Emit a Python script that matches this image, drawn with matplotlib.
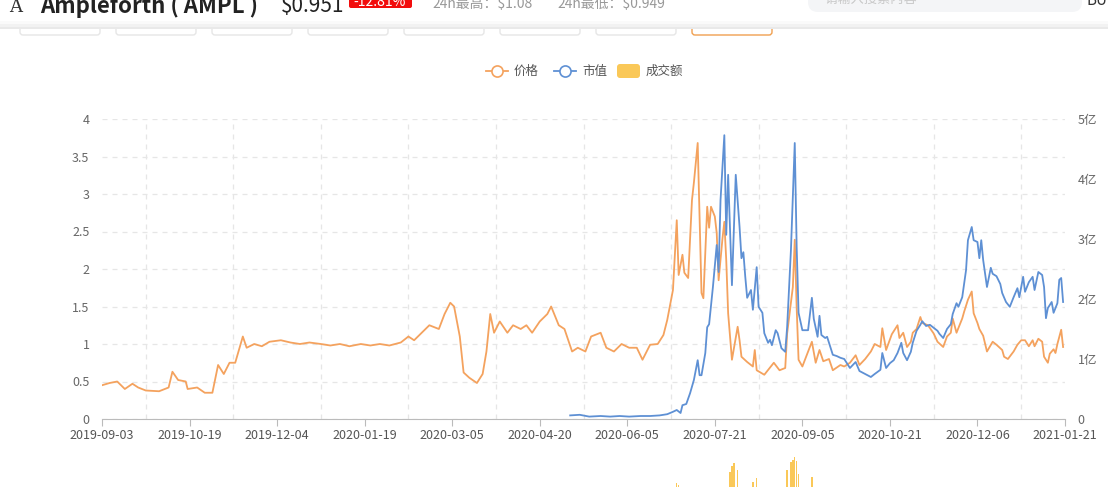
import datetime as dt
import matplotlib
matplotlib.use('Agg')
import matplotlib.pyplot as plt
from matplotlib.patches import FancyBboxPatch, Rectangle
from matplotlib.lines import Line2D

plt.rcParams['font.family'] = ['Noto Sans CJK SC', 'DejaVu Sans']

start = dt.date(2019, 9, 3)

# price (USD), day offsets from 2019-09-03
price_day = [0, 4, 8, 12, 16, 19, 23, 30, 35, 37, 40, 44, 45, 50, 54, 58, 61, 64, 67, 70,
             74, 76, 80, 84, 88, 94, 99, 104, 109, 115, 120, 125, 130, 136, 141, 146, 151, 157,
             161, 164, 168, 172, 177, 180, 183, 185, 188, 190, 193, 197, 200, 202, 204, 206,
             209, 213, 216, 220, 223, 226, 230, 234, 236, 240, 243, 247, 250, 254, 257, 262,
             265, 269, 273, 277, 281, 284, 288, 292, 295, 297, 300, 302, 303, 305, 306, 308,
             310, 311, 313, 314, 315, 316, 318, 319, 320, 322, 323, 324, 326, 327, 328, 329,
             331, 334, 335, 336, 339, 342, 343, 344, 348, 353, 356, 359, 360, 363, 364, 365,
             366, 368, 373, 375, 377, 379, 382, 384, 388, 390, 393, 396, 398, 401, 404, 406,
             409, 410, 412, 415, 418, 419, 421, 423, 425, 426, 428, 430, 431, 434, 437, 439,
             442, 444, 446, 447, 449, 452, 453, 455, 457, 458, 460, 461, 463, 465, 468, 470,
             473, 474, 476, 479, 481, 483, 485, 487, 489, 490, 492, 494, 495, 497, 498, 500,
             501, 502, 504, 505]
price_val = [0.45, 0.48, 0.50, 0.40, 0.47, 0.42, 0.38, 0.37, 0.42, 0.63, 0.52, 0.50, 0.40, 0.42,
             0.35, 0.35, 0.72, 0.60, 0.75, 0.75, 1.10, 0.95, 1.00, 0.97, 1.03, 1.05, 1.02, 1.00,
             1.02, 1.00, 0.98, 1.00, 0.97, 1.00, 0.98, 1.00, 0.98, 1.02, 1.10, 1.05, 1.15, 1.25,
             1.20, 1.40, 1.55, 1.50, 1.10, 0.62, 0.55, 0.48, 0.60, 0.90, 1.40, 1.15, 1.30, 1.15,
             1.25, 1.20, 1.25, 1.15, 1.30, 1.40, 1.50, 1.25, 1.20, 0.90, 0.95, 0.90, 1.10, 1.15,
             0.95, 0.90, 1.00, 0.95, 0.95, 0.79, 0.99, 1.00, 1.12, 1.32, 1.72, 2.65, 1.92, 2.19,
             1.95, 1.88, 2.92, 3.15, 3.68, 2.70, 1.68, 1.61, 2.83, 2.55, 2.83, 2.70, 2.48, 1.85,
             2.40, 2.63, 2.12, 1.41, 0.79, 1.23, 1.05, 0.83, 0.76, 0.70, 0.92, 0.65, 0.59, 0.75,
             0.65, 0.68, 1.14, 1.76, 2.39, 1.49, 0.79, 0.70, 1.03, 0.75, 0.92, 0.77, 0.80, 0.65,
             0.72, 0.70, 0.75, 0.85, 0.72, 0.80, 0.90, 1.00, 0.96, 1.21, 0.92, 1.13, 1.25, 1.08,
             1.15, 0.96, 1.03, 1.15, 1.20, 1.36, 1.28, 1.25, 1.14, 1.03, 0.96, 1.10, 1.15, 1.34,
             1.15, 1.34, 1.43, 1.59, 1.70, 1.41, 1.28, 1.20, 1.11, 0.90, 1.03, 0.99, 0.92, 0.83,
             0.80, 0.90, 0.99, 1.05, 1.05, 0.97, 1.05, 0.97, 1.07, 1.03, 0.83, 0.75, 0.87, 0.93,
             0.88, 1.00, 1.19, 0.96]

# market cap (亿)
mcap_day = [246, 251, 256, 262, 267, 272, 277, 283, 288, 293, 297, 300, 302, 304, 305, 307,
            309, 311, 313, 314, 315, 317, 318, 319, 321, 323, 324, 325, 327, 328, 329, 331,
            333, 335, 336, 337, 338, 339, 341, 342, 344, 345, 347, 348, 350, 351, 352, 354,
            355, 357, 359, 360, 362, 364, 365, 366, 368, 371, 373, 374, 376, 377, 378, 380,
            381, 384, 386, 388, 390, 393, 396, 398, 401, 404, 406, 409, 410, 412, 414, 416,
            418, 420, 421, 423, 425, 426, 428, 430, 431, 433, 435, 437, 439, 440, 442, 444,
            446, 447, 449, 450, 452, 454, 455, 457, 458, 460, 461, 462, 463, 465, 467, 468,
            470, 472, 473, 475, 477, 479, 481, 482, 484, 485, 487, 489, 490, 492, 494, 495,
            496, 497, 499, 500, 502, 503, 504, 505]
mcap_val = [0.06, 0.07, 0.04, 0.05, 0.04, 0.05, 0.04, 0.05, 0.05, 0.06, 0.08, 0.12, 0.15, 0.10,
            0.23, 0.25, 0.43, 0.65, 0.98, 0.73, 0.73, 1.10, 1.53, 1.58, 2.20, 2.90, 2.45, 3.65,
            4.73, 3.07, 4.07, 2.23, 4.07, 3.20, 2.68, 2.78, 2.37, 2.02, 2.15, 1.82, 2.53, 1.87,
            1.77, 1.43, 1.27, 1.32, 1.23, 1.48, 1.43, 1.18, 1.12, 1.53, 2.82, 4.60, 2.87, 1.77,
            1.48, 1.48, 2.02, 1.67, 1.37, 1.72, 1.40, 1.35, 1.37, 1.07, 1.05, 1.02, 1.00, 0.85,
            0.95, 0.80, 0.75, 0.70, 0.75, 0.82, 1.10, 0.85, 0.93, 0.98, 1.10, 1.27, 1.10, 0.98,
            1.12, 1.27, 1.47, 1.57, 1.63, 1.55, 1.57, 1.52, 1.47, 1.42, 1.35, 1.50, 1.58, 1.75,
            1.93, 1.87, 2.03, 2.48, 2.98, 3.20, 2.98, 2.95, 2.68, 2.98, 2.65, 2.20, 2.52, 2.42,
            2.38, 2.25, 2.10, 1.95, 1.87, 2.03, 2.18, 2.03, 2.37, 2.12, 2.28, 2.37, 2.15, 2.45,
            2.40, 2.20, 1.68, 1.85, 1.95, 1.77, 1.93, 2.32, 2.35, 1.95]

# volume chart below (only the top of its tallest bars is on screen)
vol_day = [300, 302, 303, 311, 313, 320, 328, 330, 331, 332, 334, 336, 342, 344, 350, 358,
           360, 362, 363, 364, 365, 366, 368, 373, 380]
vol_val = [5.0, 6.4, 6.2, 5.5, 5.8, 5.2, 5.9, 7.5, 8.1, 8.4, 7.7, 5.6, 6.5, 6.9, 5.0, 5.4,
           7.7, 8.5, 8.7, 9.0, 8.6, 7.3, 5.8, 7.0, 5.0]

tick_labels = ['2019-09-03', '2019-10-19', '2019-12-04', '2020-01-19', '2020-03-05',
               '2020-04-20', '2020-06-05', '2020-07-21', '2020-09-05', '2020-10-21',
               '2020-12-06', '2021-01-21']
price_ticks = [0, 0.5, 1, 1.5, 2, 2.5, 3, 3.5, 4]
price_tick_labels = ['0', '0.5', '1', '1.5', '2', '2.5', '3', '3.5', '4']
mcap_ticks = [0, 1, 2, 3, 4, 5]
mcap_tick_labels = ['0', '1亿', '2亿', '3亿', '4亿', '5亿']

ORANGE = '#F4A25E'
BLUE = '#5E90D4'
YELLOW = '#FAC858'
GRID = '#E6E6E6'
TXT = '#666666'

W, H = 1108, 487
fig = plt.figure(figsize=(W / 100, H / 100), dpi=100)

def fx(px):
    return px / W

def fy(py):
    return 1 - py / H

to_date = lambda d: start + dt.timedelta(days=d)
end = to_date(506)

# page furniture in pixel coordinates
ui = fig.add_axes([0, 0, 1, 1], zorder=0)
ui.set_xlim(0, W)
ui.set_ylim(H, 0)
ui.axis('off')

ui.text(9, 12, 'A', fontsize=13, family='DejaVu Serif', color='#333333', va='baseline')
ui.text(40, 13, 'Ampleforth ( AMPL )', fontsize=16, weight='bold', color='#222222', va='baseline')
ui.text(281, 12, '$0.951', fontsize=15, color='#222222', va='baseline')
ui.add_patch(FancyBboxPatch((349, -8), 63, 16, boxstyle='round,pad=0,rounding_size=2',
                            fc='#F20D0D', ec='none'))
ui.text(380, 6, '-12.81%', fontsize=10, color='white', ha='center', va='baseline')
ui.text(432, 8, '24h最高：$1.08', fontsize=10, color='#999999', va='baseline')
ui.text(557, 8, '24h最低：$0.949', fontsize=10, color='#999999', va='baseline')
ui.add_patch(FancyBboxPatch((808, -20), 274, 32, boxstyle='round,pad=0,rounding_size=10',
                            fc='#F4F5F7', ec='none'))
ui.text(824, 3, '请输入搜索内容', fontsize=9.5, color='#C8C8C8', va='baseline')
ui.text(1087, 5, 'BU', fontsize=11, color='#333333', va='baseline')

# tab strip: only the lower part of each tab shows under the divider
for i in range(8):
    x0 = 20 + 96 * i
    ec = '#F0A050' if i == 7 else '#E6E6E6'
    ui.add_patch(FancyBboxPatch((x0, 24), 80, 11, boxstyle='round,pad=0,rounding_size=3',
                                fc='white', ec=ec, lw=1))
ui.add_patch(Rectangle((0, 21), W, 3, fc='#FAFAFA', ec='none'))
ui.add_patch(Rectangle((0, 23.5), W, 3, fc='#F2F2F2', ec='none'))
ui.add_patch(Rectangle((0, 26.5), W, 2.5, fc='#E9E9E9', ec='none'))

# legend
ly = 71
ui.add_line(Line2D([486, 508], [ly, ly], color=ORANGE, lw=1.3))
ui.plot([497], [ly], 'o', ms=8, mfc='white', mec=ORANGE, mew=1.2)
ui.text(514, ly, '价格', fontsize=9, color='#555555', va='center')
ui.add_line(Line2D([554, 576], [ly, ly], color=BLUE, lw=1.3))
ui.plot([565], [ly], 'o', ms=8, mfc='white', mec=BLUE, mew=1.2)
ui.text(582, ly, '市值', fontsize=9, color='#555555', va='center')
ui.add_patch(FancyBboxPatch((617, 64), 23, 14, boxstyle='round,pad=0,rounding_size=3',
                            fc=YELLOW, ec='none'))
ui.text(646, ly, '成交额', fontsize=9, color='#555555', va='center')

# main chart
ax = fig.add_axes([fx(102), fy(419), fx(1065) - fx(102), fy(119) - fy(419)], zorder=2)
ax.patch.set_alpha(0)
ax2 = ax.twinx()

ax.plot([to_date(d) for d in price_day], price_val, color=ORANGE, lw=1.3, zorder=3)
ax2.plot([to_date(d) for d in mcap_day], mcap_val, color=BLUE, lw=1.3, zorder=2)

ax.set_xlim(start, end)
ax.set_ylim(0, 4)
ax2.set_ylim(0, 5)

major = [dt.date.fromisoformat(s) for s in tick_labels]
minor = [to_date(23 + 46 * k) for k in range(11)]
ax.set_xticks(major)
ax.set_xticklabels(tick_labels)
ax.set_xticks(minor, minor=True)
ax.set_yticks(price_ticks)
ax.set_yticklabels(price_tick_labels)
ax2.set_yticks(mcap_ticks)
ax2.set_yticklabels(mcap_tick_labels)

ax.grid(True, which='major', axis='y', color=GRID, ls=(0, (4, 4)), lw=0.9)
ax.grid(True, which='minor', axis='x', color=GRID, ls=(0, (4, 4)), lw=0.9)
ax.set_axisbelow(True)

for s in ['top', 'left', 'right']:
    ax.spines[s].set_visible(False)
ax.spines['bottom'].set_color('#BBBBBB')
for s in ax2.spines.values():
    s.set_visible(False)

ax.tick_params(axis='x', which='major', length=5, color='#BBBBBB', labelsize=9,
               labelcolor='#555555', pad=2)
ax.tick_params(axis='x', which='minor', length=0)
ax.tick_params(axis='y', length=0, labelsize=9, labelcolor=TXT, pad=9)
ax2.tick_params(axis='y', length=0, labelsize=9, labelcolor=TXT, pad=9)

# volume chart peeking in at the bottom edge
axv = fig.add_axes([fx(102), fy(547), fx(1065) - fx(102), fy(447) - fy(547)], zorder=1)
axv.bar([to_date(d) for d in vol_day], vol_val, width=0.7, color=YELLOW)
axv.set_xlim(start, end)
axv.set_ylim(0, 10)
axv.axis('off')

fig.savefig('out.png', dpi=100)
